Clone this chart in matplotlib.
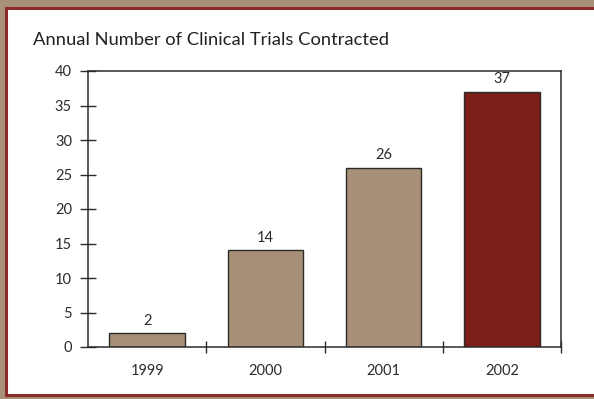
import numpy as np
import matplotlib.pyplot as plt
from matplotlib.patches import Rectangle

plt.rcParams['font.family'] = ['Lato', 'DejaVu Sans']

years = ['1999', '2000', '2001', '2002']
trials = [2, 14, 26, 37]
title = 'Annual Number of Clinical Trials Contracted'

tan = '#a89078'
maroon = '#7b1e18'
frame_red = '#8a2b28'
ink = '#2b2b2b'

fig = plt.figure(figsize=(5.94, 3.99), dpi=100, facecolor=tan)

# white panel with a thin red rule, tan showing round it
W, H = 594, 399
panel = Rectangle((5.5 / W, 4 / H), 1 - 5.5 / W + 0.01, 1 - 11.5 / H,
                  transform=fig.transFigure, facecolor='white',
                  edgecolor=frame_red, linewidth=2.2, zorder=-5)
fig.patches.append(panel)

ax = fig.add_axes([88 / W, 52 / H, (561 - 88) / W, (347 - 71) / H])
ax.set_facecolor('none')
ax.set_zorder(2)

x = np.arange(len(years)) + 0.5
colors = [tan] * (len(years) - 1) + [maroon]
bars = ax.bar(x, trials, width=0.64, color=colors, edgecolor=ink, linewidth=1.0)

for b, v in zip(bars, trials):
    ax.text(b.get_x() + b.get_width() / 2, v + 0.8, str(v), ha='center',
            va='bottom', fontsize=10.5, color=ink)

ax.set_xlim(0, len(years))
ax.set_ylim(0, 40)
ax.set_yticks(np.arange(0, 41, 5))
ax.set_xticks(np.arange(1, len(years) + 1))
ax.set_xticklabels([])
ax.set_xticks(x, minor=True)
ax.set_xticklabels(years, minor=True)

for s in ax.spines.values():
    s.set_color(ink)
    s.set_linewidth(1.1)

ax.tick_params(axis='y', direction='inout', length=11, width=1.0, color=ink,
               labelsize=10.5, labelcolor=ink, pad=6)
ax.tick_params(axis='x', which='major', direction='inout', length=9, width=1.0,
               color=ink)
ax.tick_params(axis='x', which='minor', length=0, labelsize=10.5, labelcolor=ink,
               pad=12)

fig.text(33 / W, 1 - 40 / H, title, fontsize=13.2, color='#222222',
         ha='left', va='center', zorder=3)

fig.savefig('out.png', dpi=100, facecolor=tan)
